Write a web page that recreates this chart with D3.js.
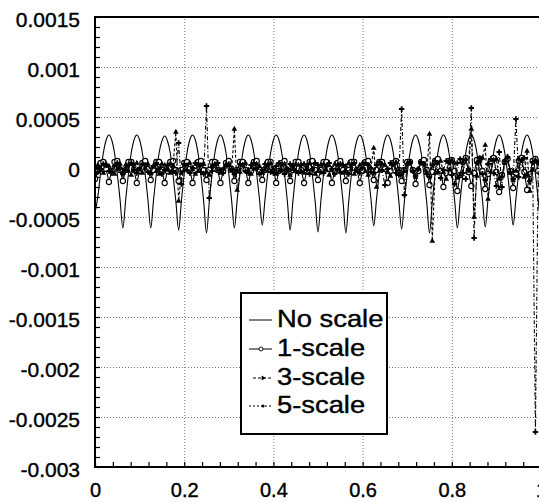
<!DOCTYPE html>
<html><head><meta charset="utf-8">
<script src="https://cdn.jsdelivr.net/npm/d3@7"></script>
<style>body{margin:0;background:#fff}svg{display:block}</style>
</head><body>
<script>
const xTicks=[0,0.2,0.4,0.6,0.8,1];
const xTickLabels=["0","0.2","0.4","0.6","0.8","1"];
const yTicks=[0.0015,0.001,0.0005,0,-0.0005,-0.001,-0.0015,-0.002,-0.0025,-0.003];
const yTickLabels=["0.0015","0.001","0.0005","0","-0.0005","-0.001","-0.0015","-0.002","-0.0025","-0.003"];
const seriesNames=["No scale","1-scale","3-scale","5-scale"];
// samples are taken at x = 0, 1/160, 2/160, ... 1
const sampleCount=161;
const noScale=[
-0.00046,-0.00030,-0.00006,0.00014,0.00027,0.00032,0.00027,0.00014,-0.00007,-0.00033,
-0.00061,-0.00033,-0.00007,0.00014,0.00027,0.00032,0.00027,0.00014,-0.00007,-0.00033,
-0.00061,-0.00033,-0.00007,0.00014,0.00026,0.00031,0.00026,0.00014,-0.00008,-0.00034,
-0.00063,-0.00034,-0.00007,0.00014,0.00027,0.00032,0.00027,0.00013,-0.00008,-0.00035,
-0.00066,-0.00035,-0.00007,0.00014,0.00027,0.00032,0.00027,0.00014,-0.00007,-0.00033,
-0.00061,-0.00033,-0.00007,0.00014,0.00027,0.00032,0.00027,0.00014,-0.00007,-0.00032,
-0.00058,-0.00032,-0.00006,0.00014,0.00027,0.00032,0.00027,0.00014,-0.00007,-0.00034,
-0.00063,-0.00034,-0.00007,0.00014,0.00027,0.00032,0.00027,0.00014,-0.00008,-0.00035,
-0.00065,-0.00035,-0.00007,0.00014,0.00027,0.00032,0.00027,0.00014,-0.00008,-0.00035,
-0.00066,-0.00035,-0.00007,0.00014,0.00027,0.00032,0.00027,0.00014,-0.00007,-0.00032,
-0.00059,-0.00032,-0.00006,0.00014,0.00027,0.00032,0.00027,0.00014,-0.00007,-0.00034,
-0.00062,-0.00034,-0.00007,0.00014,0.00027,0.00032,0.00027,0.00014,-0.00008,-0.00035,
-0.00066,-0.00035,-0.00007,0.00014,0.00027,0.00032,0.00027,0.00014,-0.00007,-0.00033,
-0.00061,-0.00033,-0.00007,0.00014,0.00027,0.00032,0.00027,0.00014,-0.00007,-0.00033,
-0.00060,-0.00032,-0.00006,0.00014,0.00027,0.00032,0.00027,0.00014,-0.00006,-0.00032,
-0.00058,-0.00032,-0.00006,0.00014,0.00027,0.00032,0.00027,0.00014,-0.00007,-0.00033,
-0.00060];
const scale1=[
-0.00012,-0.00004,0.00004,0.00005,-0.00002, -0.00015,-0.00004,0.00005,0.00006,-0.00003,
-0.00014,-0.00003,0.00005,0.00005,-0.00003, -0.00016,-0.00004,0.00004,0.00006,-0.00002,
-0.00013,-0.00003,0.00005,0.00005,-0.00003, -0.00016,-0.00004,0.00005,0.00006,-0.00003,
-0.00014,-0.00003,0.00004,0.00005,-0.00002, -0.00016,-0.00004,0.00005,0.00006,-0.00003,
-0.00013,-0.00003,0.00005,0.00005,-0.00003, -0.00016,-0.00004,0.00004,0.00006,-0.00002,
-0.00014,-0.00003,0.00005,0.00005,-0.00003, -0.00016,-0.00004,0.00005,0.00006,-0.00003,
-0.00013,-0.00003,0.00005,0.00005,-0.00002, -0.00016,-0.00004,0.00004,0.00006,-0.00003,
-0.00014,-0.00003,0.00005,0.00005,-0.00003, -0.00016,-0.00004,0.00005,0.00006,-0.00003,
-0.00013,-0.00003,0.00005,0.00005,-0.00002, -0.00016,-0.00004,0.00004,0.00006,-0.00003,
-0.00014,-0.00003,0.00005,0.00005,-0.00003, -0.00016,-0.00004,0.00005,0.00006,-0.00003,
-0.00013,-0.00003,0.00005,0.00005,-0.00002, -0.00016,-0.00004,0.00004,0.00006,-0.00003,
-0.00014,-0.00003,0.00005,0.00005,-0.00003, -0.00017,-0.00004,0.00005,0.00007,-0.00003,
-0.00018,-0.00005,0.00006,0.00008,-0.00004, -0.00020,-0.00006,0.00006,0.00007,-0.00004,
-0.00024,-0.00008,0.00005,0.00009,-0.00005, -0.00019,-0.00006,0.00007,0.00008,-0.00004,
-0.00022,-0.00007,0.00006,0.00009,-0.00005, -0.00025,-0.00008,0.00005,0.00008,-0.00004,
-0.00021,-0.00006,0.00006,0.00009,-0.00005, -0.00023,-0.00007,0.00006,0.00008,-0.00004,
-0.00018];
const scale3=[
-0.00008,0.00002,-0.00003,-0.00006,0.00003,0.00001,-0.00004,-0.00007,-0.00002,0.00003,
-0.00005,0.00002,-0.00004,-0.00008,0.00002,0.00004,-0.00003,-0.00006,-0.00001,0.00003,
-0.00006,0.00001,-0.00004,-0.00007,0.00003,0.00002,-0.00003,-0.00006,0.00001,0.00035,
-0.00034,-0.00006,-0.00003,0.00002,0.00004,-0.00002,-0.00007,-0.00004,0.00002,0.00003,
-0.00005,-0.00008,0.00001,0.00003,-0.00003,-0.00006,-0.00002,0.00003,0.00002,-0.00004,
0.00038,-0.00023,-0.00005,0.00002,0.00004,-0.00003,-0.00007,-0.00002,0.00003,0.00001,
-0.00006,-0.00003,0.00002,0.00004,-0.00002,-0.00007,-0.00004,0.00002,0.00003,-0.00003,
-0.00008,-0.00002,0.00003,0.00002,-0.00004,-0.00006,0.00001,0.00004,-0.00002,-0.00007,
-0.00004,0.00002,0.00003,-0.00003,-0.00008,-0.00002,0.00003,0.00002,-0.00005,-0.00006,
0.00001,0.00004,-0.00002,-0.00007,-0.00003,0.00002,0.00004,-0.00004,-0.00008,-0.00001,
0.00019,-0.00020,-0.00004,0.00003,0.00002,-0.00005,-0.00009,0.00002,0.00005,-0.00003,
-0.00008,-0.00004,0.00003,0.00005,-0.00004,-0.00010,-0.00002,0.00004,0.00003,-0.00006,
0.00033,-0.00074,-0.00006,0.00004,0.00006,-0.00005,-0.00012,-0.00003,0.00007,0.00004,
-0.00011,-0.00008,0.00005,0.00008,-0.00004,0.00038,-0.00050,-0.00009,0.00006,0.00009,
0.00022,-0.00032,-0.00005,0.00007,0.00008,-0.00012,-0.00009,0.00004,0.00010,-0.00006,
-0.00013,-0.00004,0.00008,0.00006,-0.00010,0.00016,-0.00024,-0.00003,0.00007,0.00005,
-0.00010];
const scale5=[
0.00001,-0.00005,-0.00002,0.00003,0.00002,-0.00004,-0.00006,0.00001,0.00004,-0.00002,
-0.00007,-0.00003,0.00002,0.00004,-0.00003,-0.00006,-0.00001,0.00003,0.00002,-0.00005,
-0.00006,0.00001,0.00004,-0.00002,-0.00007,-0.00003,0.00002,0.00003,-0.00004,-0.00006,
0.00024,-0.00017,0.00003,-0.00003,-0.00006,-0.00001,0.00004,0.00002,-0.00005,-0.00007,
0.00061,-0.00031,-0.00004,0.00002,0.00004,-0.00003,-0.00006,0.00001,0.00003,-0.00002,
-0.00007,-0.00003,0.00003,0.00002,-0.00004,-0.00006,0.00002,0.00004,-0.00002,-0.00007,
-0.00003,0.00003,0.00002,-0.00005,-0.00006,0.00001,0.00004,-0.00003,-0.00007,-0.00002,
0.00003,0.00001,-0.00004,-0.00006,0.00002,0.00003,-0.00003,-0.00007,-0.00002,0.00004,
0.00002,-0.00005,-0.00006,0.00001,0.00004,-0.00002,-0.00007,-0.00003,0.00003,0.00002,
-0.00004,-0.00007,0.00002,0.00004,-0.00003,-0.00006,-0.00001,0.00004,0.00002,-0.00005,
-0.00006,0.00002,0.00005,-0.00003,-0.00018,-0.00002,0.00004,0.00003,-0.00006,-0.00008,
0.00058,-0.00028,0.00003,0.00005,-0.00004,-0.00009,-0.00002,0.00005,0.00003,-0.00007,
-0.00010,0.00002,0.00006,-0.00005,-0.00011,-0.00003,0.00006,0.00005,-0.00008,-0.00017,
0.00004,0.00008,-0.00006,-0.00012,-0.00002,0.00059,-0.00071,0.00004,0.00009,-0.00007,
-0.00013,0.00003,0.00008,-0.00006,-0.00019,0.00015,-0.00020,0.00006,0.00010,-0.00005,
-0.00012,0.00048,-0.00010,0.00007,0.00009,-0.00008,-0.00014,0.00005,-0.00265,0.00004,
-0.00006];

const W=539,H=502;
const svg=d3.select("body").append("svg").attr("width",W).attr("height",H)
  .style("font-family","'Liberation Sans',Arial,Helvetica,sans-serif");
const x=d3.scaleLinear().domain([0,1]).range([95,541]);
const y=d3.scaleLinear().domain([-0.003,0.0015]).range([467,17]);
const xs=d3.range(sampleCount).map(i=>i/(sampleCount-1));

// grid
const gGrid=svg.append("g");
gGrid.append("g").attr("transform","translate(95,0)")
  .call(d3.axisLeft(y).tickValues(yTicks).tickSize(-446).tickFormat(""))
  .call(g=>{g.select(".domain").remove();g.selectAll("line").attr("stroke","#777").attr("stroke-dasharray","1,2");});
gGrid.append("g").attr("transform","translate(0,467)")
  .call(d3.axisBottom(x).tickValues(xTicks).tickSize(-450).tickFormat(""))
  .call(g=>{g.select(".domain").remove();g.selectAll("line").attr("stroke","#777").attr("stroke-dasharray","1,2");});

// minor ticks (inward)
const yMinor=d3.range(-30,16).map(k=>k*0.0001);
const xMinor=d3.range(0,26).map(k=>k*0.04);
svg.append("g").attr("transform","translate(95,0)")
  .call(d3.axisLeft(y).tickValues(yMinor).tickSize(-5).tickFormat(""))
  .call(g=>{g.select(".domain").remove();g.selectAll("line").attr("stroke","#000").attr("stroke-width",1.2);});
svg.append("g").attr("transform","translate(0,467)")
  .call(d3.axisBottom(x).tickValues(xMinor).tickSize(-5).tickFormat(""))
  .call(g=>{g.select(".domain").remove();g.selectAll("line").attr("stroke","#000").attr("stroke-width",1.2);});

// tick labels
svg.append("g").attr("transform","translate(95,0)")
  .call(d3.axisLeft(y).tickValues(yTicks).tickSize(0).tickPadding(15).tickFormat((d,i)=>yTickLabels[i]))
  .call(g=>{g.select(".domain").remove();g.selectAll("text").attr("font-size",21).attr("font-family","'Liberation Sans',Arial,sans-serif")
    .attr("fill","#000").attr("stroke","#000").attr("stroke-width",0.4).attr("dy","0.45em");});
svg.append("g").attr("transform","translate(0,467)")
  .call(d3.axisBottom(x).tickValues(xTicks).tickSize(0).tickPadding(16).tickFormat((d,i)=>xTickLabels[i]))
  .call(g=>{g.select(".domain").remove();g.selectAll("text").attr("font-size",20).attr("font-family","'Liberation Sans',Arial,sans-serif")
    .attr("fill","#000").attr("stroke","#000").attr("stroke-width",0.4);});

// clip
svg.append("clipPath").attr("id","clip").append("rect")
  .attr("x",x(0)).attr("y",y(0.0015)).attr("width",x(1)-x(0)).attr("height",y(-0.003)-y(0.0015));
const plot=svg.append("g").attr("clip-path","url(#clip)");

const pts=arr=>arr.map((v,i)=>[xs[i],v]);
const lineLin=d3.line().x(d=>x(d[0])).y(d=>y(d[1]));
const lineSmooth=d3.line().x(d=>x(d[0])).y(d=>y(d[1])).curve(d3.curveMonotoneX);

// No scale
plot.append("path").datum(pts(noScale)).attr("d",lineSmooth)
  .attr("fill","none").attr("stroke","#000").attr("stroke-width",1.1);

// 1-scale
plot.append("path").datum(pts(scale1)).attr("d",lineLin)
  .attr("fill","none").attr("stroke","#000").attr("stroke-width",1.1);
plot.append("g").selectAll("circle").data(pts(scale1)).join("circle")
  .attr("cx",d=>x(d[0])).attr("cy",d=>y(d[1])).attr("r",2.6)
  .attr("fill","#fff").attr("stroke","#000").attr("stroke-width",1.1);

// 3-scale
plot.append("path").datum(pts(scale3)).attr("d",lineLin)
  .attr("fill","none").attr("stroke","#000").attr("stroke-width",1.1).attr("stroke-dasharray","3,2");
const tri=d3.symbol().type(d3.symbolTriangle).size(14);
plot.append("g").selectAll("path").data(pts(scale3)).join("path")
  .attr("transform",d=>`translate(${x(d[0])},${y(d[1])})`).attr("d",tri).attr("fill","#000");

// 5-scale
plot.append("path").datum(pts(scale5)).attr("d",lineLin)
  .attr("fill","none").attr("stroke","#000").attr("stroke-width",1.1).attr("stroke-dasharray","4,2,1,2");
const crs=d3.symbol().type(d3.symbolCross).size(16);
plot.append("g").selectAll("path").data(pts(scale5)).join("path")
  .attr("transform",d=>`translate(${x(d[0])},${y(d[1])})`).attr("d",crs).attr("fill","#000");

// frame
const fr=svg.append("g").attr("fill","none").attr("stroke","#000").attr("stroke-width",2);
fr.append("line").attr("x1",x(0)).attr("x2",x(0)).attr("y1",y(0.0015)-1).attr("y2",y(-0.003)+1);
fr.append("line").attr("x1",x(0)).attr("x2",x(1)).attr("y1",y(0.0015)).attr("y2",y(0.0015));
fr.append("line").attr("x1",x(0)).attr("x2",x(1)).attr("y1",y(-0.003)).attr("y2",y(-0.003));
fr.append("line").attr("x1",x(1)).attr("x2",x(1)).attr("y1",y(0.0015)).attr("y2",y(-0.003));

// legend
const lg=svg.append("g");
lg.append("rect").attr("x",241).attr("y",293).attr("width",146).attr("height",141)
  .attr("fill","#fff").attr("stroke","#000").attr("stroke-width",2);
const rows=[327,356,385,413];
seriesNames.forEach((name,i)=>{
  const by=rows[i], ly=by-7;
  const dash=[null,null,"3,2","2,2"][i];
  const l=lg.append("line").attr("x1",i===2?253:249).attr("x2",272).attr("y1",ly).attr("y2",ly)
    .attr("stroke","#000").attr("stroke-width",1);
  if(dash) l.attr("stroke-dasharray",dash);
  if(i===1) lg.append("circle").attr("cx",261).attr("cy",ly).attr("r",2).attr("fill","#fff").attr("stroke","#000").attr("stroke-width",0.9);
  if(i===2) lg.append("path").attr("transform",`translate(263,${ly}) rotate(90)`).attr("d",d3.symbol().type(d3.symbolTriangle).size(10)).attr("fill","#000");
  if(i===3) lg.append("circle").attr("cx",263).attr("cy",ly).attr("r",1.6).attr("fill","#000");
  lg.append("text").attr("transform",`translate(277,${by}) scale(1.14,1)`)
    .attr("font-size",24).attr("fill","#000").attr("stroke","#000").attr("stroke-width",0.4).text(name);
});
</script>
</body></html>
